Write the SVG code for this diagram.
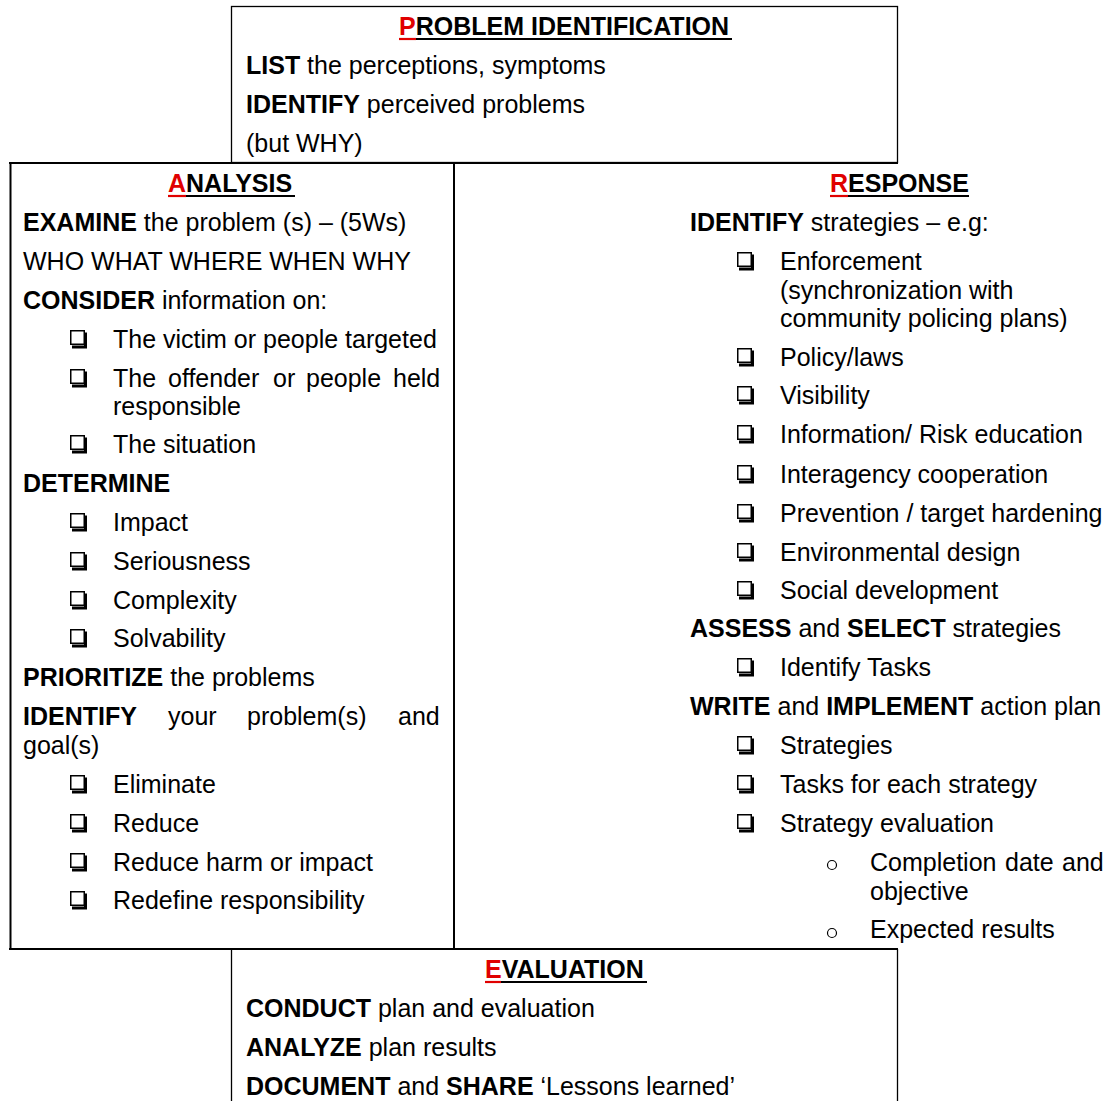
<svg xmlns="http://www.w3.org/2000/svg" xmlns:xlink="http://www.w3.org/1999/xlink" width="1111" height="1101" viewBox="0 0 1111 1101">
<style>
.t{font-family:"Liberation Sans",Arial,Helvetica,sans-serif;font-size:25px;fill:#000}
.b{font-weight:bold}
.red{fill:#e00000}
.fr{fill:none;stroke:#000}
.thin{stroke-width:1.3}
.thick{stroke-width:2}
.ulr{stroke:#e00000;stroke-width:2.2}
.ulk{stroke:#000;stroke-width:2.2}
</style>
<defs>
<g id="cb">
<rect x="0.75" y="-17.25" width="13.5" height="13.5" fill="#fff" stroke="#000" stroke-width="1.5"/>
<path d="M15.5 -15.5 V-1 H2" fill="none" stroke="#000" stroke-width="3"/>
</g>
<circle id="ob" cx="0" cy="0" r="4.5" fill="none" stroke="#000" stroke-width="1.2"/>
</defs>
<rect width="1111" height="1101" fill="#fff"/>

<g id="problem-identification">
<rect class="fr thin" x="231.5" y="6.5" width="666" height="156"/>
<text class="t b" x="399" y="35"><tspan class="red">P</tspan>ROBLEM IDENTIFICATION</text>
<line class="ulr" x1="399" y1="39" x2="416" y2="39"/>
<line class="ulk" x1="416" y1="39" x2="732" y2="39"/>
<text class="t" x="246" y="74"><tspan class="b">LIST</tspan> the perceptions, symptoms</text>
<text class="t" x="246" y="113"><tspan class="b">IDENTIFY</tspan> perceived problems</text>
<text class="t" x="246" y="152">(but WHY)</text>
</g>

<g id="analysis">
<line class="fr thick" x1="9" y1="163" x2="898" y2="163"/>
<line class="fr thick" x1="10.5" y1="162" x2="10.5" y2="950"/>
<line class="fr thick" x1="454" y1="162" x2="454" y2="950"/>
<line class="fr thick" x1="9" y1="949" x2="898" y2="949"/>
<text class="t b" x="168" y="192"><tspan class="red">A</tspan>NALYSIS</text>
<line class="ulr" x1="168" y1="196" x2="186" y2="196"/>
<line class="ulk" x1="186" y1="196" x2="295" y2="196"/>
<text class="t" x="23" y="231"><tspan class="b">EXAMINE</tspan> the problem (s) – (5Ws)</text>
<text class="t" x="23" y="270">WHO WHAT WHERE WHEN WHY</text>
<text class="t" x="23" y="309"><tspan class="b">CONSIDER</tspan> information on:</text>
<use xlink:href="#cb" x="70" y="348"/>
<text class="t" x="113" y="348">The victim or people targeted</text>
<use xlink:href="#cb" x="70" y="387"/>
<text class="t" y="387"><tspan x="113">The</tspan><tspan x="168">offender</tspan><tspan x="273">or</tspan><tspan x="306">people</tspan><tspan x="393">held</tspan></text>
<text class="t" x="113" y="415">responsible</text>
<use xlink:href="#cb" x="70" y="453"/>
<text class="t" x="113" y="453">The situation</text>
<text class="t b" x="23" y="492">DETERMINE</text>
<use xlink:href="#cb" x="70" y="531"/>
<text class="t" x="113" y="531">Impact</text>
<use xlink:href="#cb" x="70" y="570"/>
<text class="t" x="113" y="570">Seriousness</text>
<use xlink:href="#cb" x="70" y="609"/>
<text class="t" x="113" y="609">Complexity</text>
<use xlink:href="#cb" x="70" y="647"/>
<text class="t" x="113" y="647">Solvability</text>
<text class="t" x="23" y="686"><tspan class="b">PRIORITIZE</tspan> the problems</text>
<text class="t" y="725"><tspan class="b" x="23">IDENTIFY</tspan><tspan x="168">your</tspan><tspan x="247">problem(s)</tspan><tspan x="398">and</tspan></text>
<text class="t" x="23" y="754">goal(s)</text>
<use xlink:href="#cb" x="70" y="793"/>
<text class="t" x="113" y="793">Eliminate</text>
<use xlink:href="#cb" x="70" y="832"/>
<text class="t" x="113" y="832">Reduce</text>
<use xlink:href="#cb" x="70" y="871"/>
<text class="t" x="113" y="871">Reduce harm or impact</text>
<use xlink:href="#cb" x="70" y="909"/>
<text class="t" x="113" y="909">Redefine responsibility</text>
</g>

<g id="response">
<text class="t b" x="830" y="192"><tspan class="red">R</tspan>ESPONSE</text>
<line class="ulr" x1="830" y1="196" x2="848" y2="196"/>
<line class="ulk" x1="848" y1="196" x2="969" y2="196"/>
<text class="t" x="690" y="231"><tspan class="b">IDENTIFY</tspan> strategies – e.g:</text>
<use xlink:href="#cb" x="737" y="270"/>
<text class="t" x="780" y="270">Enforcement</text>
<text class="t" x="780" y="299">(synchronization with</text>
<text class="t" x="780" y="327">community policing plans)</text>
<use xlink:href="#cb" x="737" y="366"/>
<text class="t" x="780" y="366">Policy/laws</text>
<use xlink:href="#cb" x="737" y="404"/>
<text class="t" x="780" y="404">Visibility</text>
<use xlink:href="#cb" x="737" y="443"/>
<text class="t" x="780" y="443">Information/ Risk education</text>
<use xlink:href="#cb" x="737" y="483"/>
<text class="t" x="780" y="483">Interagency cooperation</text>
<use xlink:href="#cb" x="737" y="522"/>
<text class="t" x="780" y="522">Prevention / target hardening</text>
<use xlink:href="#cb" x="737" y="561"/>
<text class="t" x="780" y="561">Environmental design</text>
<use xlink:href="#cb" x="737" y="599"/>
<text class="t" x="780" y="599">Social development</text>
<text class="t" x="690" y="637"><tspan class="b">ASSESS</tspan> and <tspan class="b">SELECT</tspan> strategies</text>
<use xlink:href="#cb" x="737" y="676"/>
<text class="t" x="780" y="676">Identify Tasks</text>
<text class="t" x="690" y="715"><tspan class="b">WRITE</tspan> and <tspan class="b">IMPLEMENT</tspan> action plan</text>
<use xlink:href="#cb" x="737" y="754"/>
<text class="t" x="780" y="754">Strategies</text>
<use xlink:href="#cb" x="737" y="793"/>
<text class="t" x="780" y="793">Tasks for each strategy</text>
<use xlink:href="#cb" x="737" y="832"/>
<text class="t" x="780" y="832">Strategy evaluation</text>
<use xlink:href="#ob" x="832" y="865"/>
<text class="t" y="871"><tspan x="870">Completion</tspan><tspan x="1005">date</tspan><tspan x="1062">and</tspan></text>
<text class="t" x="870" y="900">objective</text>
<use xlink:href="#ob" x="832" y="933"/>
<text class="t" x="870" y="938">Expected results</text>
</g>

<g id="evaluation">
<line class="fr thin" x1="231.5" y1="949" x2="231.5" y2="1101"/>
<line class="fr thin" x1="897.5" y1="949" x2="897.5" y2="1101"/>
<text class="t b" x="485" y="978"><tspan class="red">E</tspan>VALUATION</text>
<line class="ulr" x1="485" y1="982" x2="501" y2="982"/>
<line class="ulk" x1="501" y1="982" x2="647" y2="982"/>
<text class="t" x="246" y="1017"><tspan class="b">CONDUCT</tspan> plan and evaluation</text>
<text class="t" x="246" y="1056"><tspan class="b">ANALYZE</tspan> plan results</text>
<text class="t" x="246" y="1095"><tspan class="b">DOCUMENT</tspan> and <tspan class="b">SHARE</tspan> ‘Lessons learned’</text>
</g>

<g id="connectors"/>
</svg>
